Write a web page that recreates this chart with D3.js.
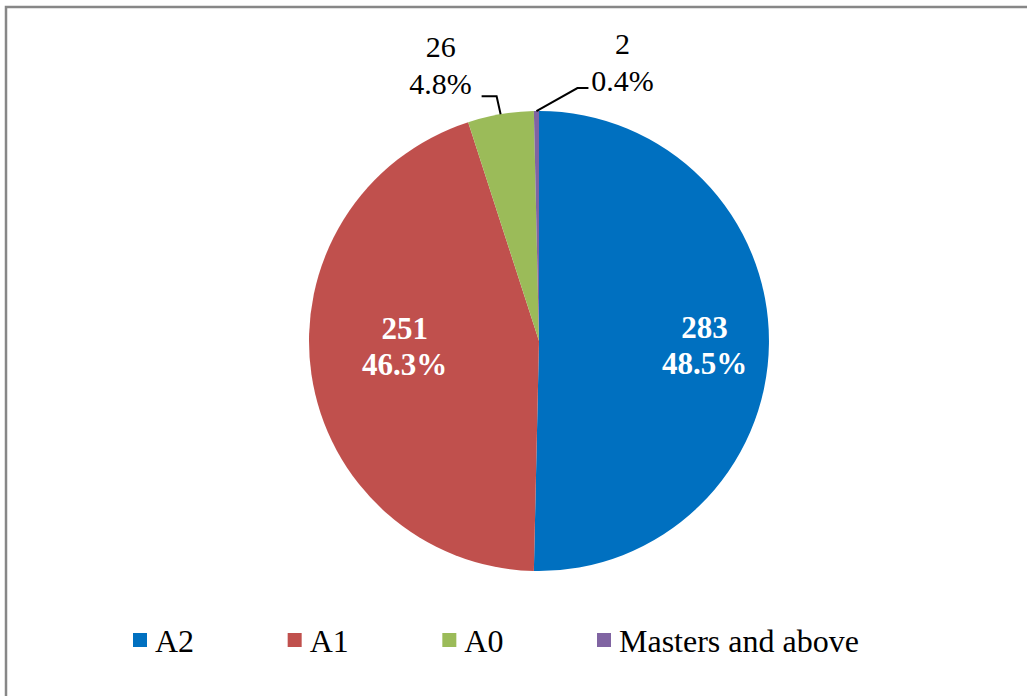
<!DOCTYPE html>
<html>
<head>
<meta charset="utf-8">
<script src="https://cdn.jsdelivr.net/npm/d3@7"></script>
<style>
  html, body { margin: 0; padding: 0; background: #fff; }
  svg { display: block; }
  text { font-family: "Liberation Serif", "Times New Roman", serif; }
</style>
</head>
<body>
<svg id="chart" width="1027" height="696"></svg>
<script>
// Group names, head counts and the printed share of each group
const categories = ["A2", "A1", "A0", "Masters and above"];
const counts = [283, 251, 26, 2];
const percentLabels = ["48.5%", "46.3%", "4.8%", "0.4%"];
const colors = ["#0070C0", "#C0504D", "#9BBB59", "#8064A2"];

const W = 1027, H = 696;
const cx = 539, cy = 341, R = 230;

const svg = d3.select("#chart");

// outer frame
svg.append("rect")
  .attr("x", 6).attr("y", 7)
  .attr("width", W + 10).attr("height", H + 10)
  .attr("fill", "none")
  .attr("stroke", "#878787")
  .attr("stroke-width", 2.5);

const data = categories.map((c, i) => ({ name: c, count: counts[i], pct: percentLabels[i], color: colors[i] }));

const pie = d3.pie().value(d => d.count).sort(null).startAngle(0).endAngle(2 * Math.PI);
const arcs = pie(data);
const arc = d3.arc().innerRadius(0).outerRadius(R);

const g = svg.append("g").attr("transform", `translate(${cx},${cy})`);

g.selectAll("path.slice")
  .data(arcs)
  .join("path")
  .attr("class", "slice")
  .attr("d", arc)
  .attr("fill", d => d.data.color);

// labels inside the two large slices
const insideRadius = [0.72, 0.59];
const insideLift = [0, -17];
const inside = arcs.slice(0, 2);
inside.forEach((a, i) => {
  const mid = (a.startAngle + a.endAngle) / 2;
  const r = R * insideRadius[i];
  const x = r * Math.sin(mid);
  const y = -r * Math.cos(mid) + insideLift[i];
  const t = g.append("text")
    .attr("text-anchor", "middle")
    .attr("fill", "#fff")
    .attr("font-weight", "bold")
    .attr("font-size", 31);
  t.append("tspan").attr("x", x).attr("y", y - 5).text(a.data.count);
  t.append("tspan").attr("x", x).attr("y", y + 31).text(a.data.pct);
});

// outside labels with leader lines for the two small slices
const leader = [
  { elbowDx: -4, elbowDy: -18, endDx: -19, textDx: -60, textDy: -20 },
  { elbowDx: 41, elbowDy: -23, endDx: 52, textDx: 86, textDy: -20 }
];
arcs.slice(2).forEach((a, i) => {
  const mid = (a.startAngle + a.endAngle) / 2;
  const px = R * Math.sin(mid), py = -R * Math.cos(mid);
  const L = leader[i];
  const ex = px + L.elbowDx, ey = py + L.elbowDy;
  g.append("path")
    .attr("d", d3.line()([[px, py], [ex, ey], [px + L.endDx, ey]]))
    .attr("fill", "none")
    .attr("stroke", "#000")
    .attr("stroke-width", 2);
  const tx = px + L.textDx, ty = py + L.textDy;
  const t = g.append("text")
    .attr("text-anchor", "middle")
    .attr("fill", "#000")
    .attr("font-size", 30);
  t.append("tspan").attr("x", tx).attr("y", ty - 37).text(a.data.count);
  t.append("tspan").attr("x", tx).attr("y", ty).text(a.data.pct);
});

// legend
const legendX = d3.scalePoint().domain(categories).range([133, 597]);
const lg = svg.append("g");
const item = lg.selectAll("g.item").data(data).join("g")
  .attr("class", "item")
  .attr("transform", d => `translate(${legendX(d.name)},633)`);
item.append("rect").attr("width", 14).attr("height", 14).attr("fill", d => d.color);
item.append("text")
  .attr("x", 22).attr("y", 19)
  .attr("font-size", 32)
  .attr("fill", "#000")
  .text(d => d.name);
</script>
</body>
</html>
